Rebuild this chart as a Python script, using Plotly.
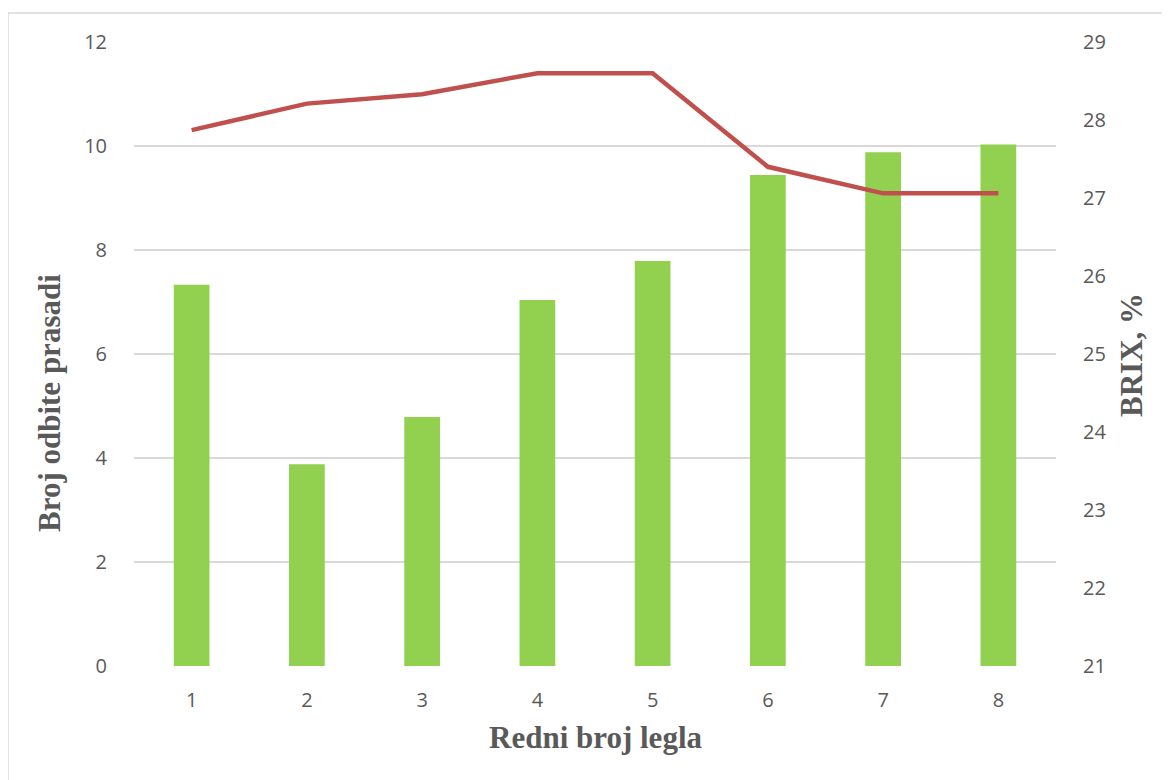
import plotly.graph_objects as go

categories = ["1", "2", "3", "4", "5", "6", "7", "8"]
piglets = [7.33, 3.88, 4.79, 7.04, 7.79, 9.44, 9.88, 10.03]
brix = [27.87, 28.21, 28.33, 28.60, 28.60, 27.40, 27.06, 27.06]

left_ticks = [0, 2, 4, 6, 8, 10, 12]
right_ticks = [21, 22, 23, 24, 25, 26, 27, 28, 29]

# page has an 8px body margin; plot area target: x 134..1056, y 42..666
OFF = 8
L, R, T, B = 134, 1056, 42, 666
W = R - L
H = B - T

fig = go.Figure()
fig.add_trace(go.Bar(x=categories, y=piglets, marker=dict(color="#92D050", line=dict(width=0)),
                     width=0.31, name="Broj odbite prasadi"))
fig.add_trace(go.Scatter(x=categories, y=brix, yaxis="y2", mode="lines",
                         line=dict(color="#C0504D", width=4.5), name="BRIX, %"))

tickfont = dict(family="Open Sans, Calibri, sans-serif", size=20, color="#595959")
titlefont = dict(family="Liberation Serif, Times New Roman, serif", size=31, color="#595959")

fig.update_layout(
    width=1170 - OFF, height=780 - OFF,
    margin=dict(l=L - OFF, r=1170 - R, t=T - OFF, b=780 - B),
    paper_bgcolor="white", plot_bgcolor="white",
    showlegend=False,
    xaxis=dict(type="category", tickfont=tickfont, showgrid=False, zeroline=False,
               ticks="outside", ticklen=16, tickcolor="rgba(0,0,0,0)",
               showline=False),
    yaxis=dict(range=[0, 12], tickvals=left_ticks, tickfont=tickfont,
               gridcolor="#D9D9D9", gridwidth=1.5, zeroline=False,
               ticks="outside", ticklen=22, tickcolor="rgba(0,0,0,0)"),
    yaxis2=dict(range=[21, 29], tickvals=right_ticks, tickfont=tickfont,
                overlaying="y", side="right", showgrid=False, zeroline=False,
                ticks="outside", ticklen=22, tickcolor="rgba(0,0,0,0)"),
    annotations=[
        dict(text="<b>Redni broj legla</b>", xref="paper", yref="paper",
             x=0.5, y=(B - 737) / H, xanchor="center", yanchor="middle",
             showarrow=False, font=titlefont),
        dict(text="<b>Broj odbite prasadi</b>", xref="paper", yref="paper",
             x=(50 - L) / W, y=(B - 403) / H, xanchor="center", yanchor="middle",
             textangle=-90, showarrow=False, font=titlefont),
        dict(text="<b>BRIX, %</b>", xref="paper", yref="paper",
             x=(1131 - L) / W, y=(B - 355) / H, xanchor="center", yanchor="middle",
             textangle=-90, showarrow=False, font=titlefont),
    ],
    shapes=[dict(type="rect", xref="paper", yref="paper",
                 x0=(8 - L) / W, x1=(1200 - L) / W,
                 y0=(B - 800) / H, y1=(B - 13) / H,
                 line=dict(color="#D9D9D9", width=1.5))],
)

fig.write_html("out.html")
